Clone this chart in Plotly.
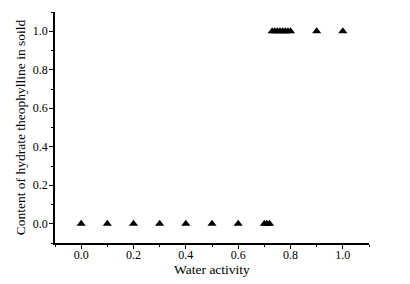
import plotly.graph_objects as go

water_activity = [0.0, 0.1, 0.2, 0.3, 0.4, 0.5, 0.6, 0.70, 0.71, 0.72,
                  0.73, 0.74, 0.75, 0.76, 0.77, 0.78, 0.79, 0.80, 0.9, 1.0]
hydrate_content = [0, 0, 0, 0, 0, 0, 0, 0, 0, 0,
                   1, 1, 1, 1, 1, 1, 1, 1, 1, 1]
x_ticks = [0.0, 0.2, 0.4, 0.6, 0.8, 1.0]
y_ticks = [0.0, 0.2, 0.4, 0.6, 0.8, 1.0]

fig = go.Figure(go.Scatter(
    x=water_activity, y=hydrate_content, mode="markers",
    marker=dict(symbol="triangle-up", size=8, color="black"),
    showlegend=False,
))

font = dict(family="Liberation Serif, Times New Roman, serif", color="black")
axis_common = dict(
    showgrid=False, zeroline=False, showline=True, linecolor="black", linewidth=1.5,
    ticks="outside", ticklen=4, tickwidth=1, tickcolor="black",
    tickfont=dict(size=12, **font), automargin=False,
    minor=dict(ticks="outside", ticklen=2, tickwidth=1, tickcolor="black", dtick=0.1),
)
fig.update_xaxes(range=[-0.1, 1.1], tickvals=x_ticks, ticktext=[f"{v:.1f}" for v in x_ticks],
                 ticklabelstandoff=-4,
                 title=dict(text="Water activity", font=dict(size=13.5, **font), standoff=2),
                 **axis_common)
fig.update_yaxes(range=[-0.1, 1.1], tickvals=y_ticks, ticktext=[f"{v:.1f}" for v in y_ticks],
                 ticklabelstandoff=-1,
                 title=dict(text="Content of hydrate theophylline in soild", font=dict(size=13.5, **font), standoff=4),
                 **axis_common)
fig.update_layout(
    width=410, height=284,
    margin=dict(l=55, r=41, t=12, b=41),
    paper_bgcolor="white", plot_bgcolor="white",
)
fig.write_html("out.html", config={"displayModeBar": False},
               post_script="document.body.style.margin='0';document.body.style.padding='0';")
